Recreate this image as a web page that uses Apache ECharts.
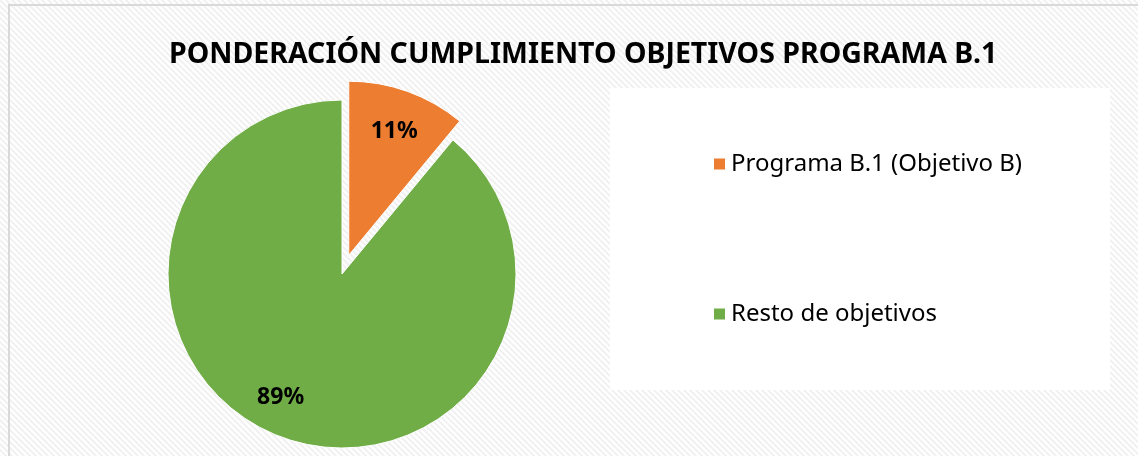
<!DOCTYPE html>
<html>
<head>
<meta charset="utf-8">
<script src="https://cdn.jsdelivr.net/npm/echarts@6/dist/echarts.min.js"></script>
<style>
  html, body { margin: 0; padding: 0; background: #ffffff; }
  #chart { width: 1138px; height: 456px; }
</style>
</head>
<body>
<div id="chart"></div>
<script>
// datos del gráfico
var categorias = ['Programa B.1 (Objetivo B)', 'Resto de objetivos'];
var valores = [11, 89];
var colores = ['#ed7d31', '#70ad47'];
var titulo = 'PONDERACIÓN CUMPLIMIENTO OBJETIVOS PROGRAMA B.1';

// fondo rayado suave
function rayas() {
    var c = document.createElement('canvas');
    c.width = 6; c.height = 6;
    var ctx = c.getContext('2d');
    ctx.fillStyle = '#ffffff';
    ctx.fillRect(0, 0, 6, 6);
    ctx.strokeStyle = '#f1f1f1';
    ctx.lineWidth = 2;
    ctx.beginPath();
    ctx.moveTo(-1, -1); ctx.lineTo(7, 7);
    ctx.moveTo(-4, 2); ctx.lineTo(4, 10);
    ctx.moveTo(2, -4); ctx.lineTo(10, 4);
    ctx.stroke();
    return c;
}

function draw_pie() {
    var myChart = echarts.init(document.getElementById('chart'));

    var datos = [];
    var etiquetas = [];
    for (var i = 0; i < categorias.length; i++) {
        datos.push({
            name: categorias[i],
            value: valores[i],
            selected: i == 0,
            itemStyle: { color: colores[i] }
        });
        etiquetas.push({
            name: categorias[i],
            value: valores[i],
            selected: i == 0
        });
    }

    var option = {
        backgroundColor: { image: rayas(), repeat: 'repeat' },
        animation: false,
        title: {
            text: titulo,
            left: 164,
            top: 35,
            textStyle: {
                fontFamily: 'Noto Sans',
                fontSize: 28.5,
                fontWeight: 'bold',
                color: '#000000'
            }
        },
        graphic: [
            {
                type: 'rect',
                shape: { x: 9, y: 5, width: 1140, height: 460 },
                style: { fill: 'none', stroke: '#d9d9d9', lineWidth: 2 },
                z: 0
            },
            {
                type: 'rect',
                shape: { x: 610, y: 88, width: 500, height: 302 },
                style: { fill: '#ffffff' },
                z: 0
            }
        ],
        legend: {
            orient: 'vertical',
            left: 707,
            top: 147,
            itemGap: 126,
            itemWidth: 13,
            itemHeight: 13,
            icon: 'rect',
            textStyle: {
                fontFamily: 'Noto Sans',
                fontSize: 24,
                color: '#000000',
                padding: [0, 0, 0, 0]
            },
            selectedMode: false,
            data: categorias
        },
        series: [
            {
                type: 'pie',
                center: [342, 274],
                radius: 174,
                startAngle: 90,
                clockwise: true,
                selectedMode: 'multiple',
                selectedOffset: 20,
                emphasis: { disabled: true },
                itemStyle: { borderColor: '#ffffff', borderWidth: 1 },
                label: { show: false },
                labelLine: { show: false },
                data: datos
            },
            {
                type: 'pie',
                center: [342, 274],
                radius: [88, 174],
                startAngle: 90,
                clockwise: true,
                selectedMode: 'multiple',
                selectedOffset: 20,
                silent: true,
                emphasis: { disabled: true },
                itemStyle: { color: 'rgba(0,0,0,0)' },
                label: {
                    show: true,
                    position: 'inside',
                    formatter: '{c}%',
                    fontFamily: 'Noto Sans',
                    fontSize: 23,
                    fontWeight: 'bold',
                    color: '#000000'
                },
                labelLine: { show: false },
                // Excel coloca las etiquetas algo desplazadas
                labelLayout: function (params) {
                    if (params.dataIndex == 1) {
                        return { dx: -16, dy: -3 };
                    }
                    return { dy: 2 };
                },
                data: etiquetas
            }
        ]
    };

    myChart.setOption(option);
}

draw_pie();
</script>
</body>
</html>
